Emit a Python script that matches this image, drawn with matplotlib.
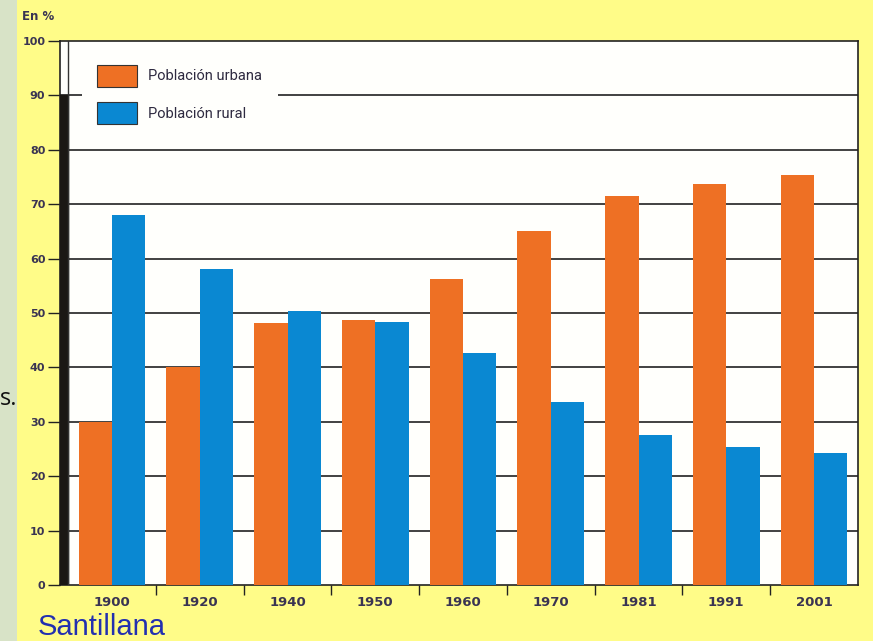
import numpy as np
import matplotlib
matplotlib.use('Agg')
import matplotlib.pyplot as plt
from matplotlib.patches import Patch, Rectangle

# data
years = ['1900', '1920', '1940', '1950', '1960', '1970', '1981', '1991', '2001']
urbana = [30.0, 40.0, 48.1, 48.7, 56.2, 65.1, 71.5, 73.7, 75.4]
rural = [68.0, 58.1, 50.3, 48.4, 42.6, 33.6, 27.5, 25.3, 24.2]
yticks = list(range(0, 101, 10))

c_urb = '#EE7024'
c_rur = '#0A88D2'
txt = '#3A3452'
W, H = 873, 641

fig = plt.figure(figsize=(W / 100, H / 100), dpi=100)
fig.patch.set_facecolor('#FFFC88')
# green strip on the left edge
fig.patches.append(Rectangle((0, 0), 17 / W, 1, transform=fig.transFigure,
                             facecolor='#D8E3C7', edgecolor='none', zorder=0))

ax = fig.add_axes([60 / W, 1 - 585 / H, 798 / W, 544 / H])
ax.set_facecolor('#FFFFFC')

x = np.arange(len(years))
bw = 0.38
ax.bar(x - bw / 2, urbana, bw, color=c_urb, zorder=3)
ax.bar(x + bw / 2, rural, bw, color=c_rur, zorder=3)

ax.set_xlim(-0.593, len(years) - 0.499)
ax.set_ylim(0, 100)

# gridlines
for v in yticks[1:-1]:
    ax.axhline(v, color='#333333', lw=1.3, zorder=1)

# dark wall strip on the left
ax.axvspan(-0.593, -0.5, ymin=0, ymax=0.9, color='#1a1714', zorder=4)
ax.axvline(-0.5, color='#333333', lw=1, zorder=4)

ax.set_yticks(yticks)
ax.set_yticklabels([str(v) for v in yticks], fontsize=8, fontweight='bold', color=txt)
ax.tick_params(axis='y', length=8.6, width=1, color='#222222', pad=2)

ax.set_xticks(x)
ax.set_xticklabels(years, fontsize=9.5, fontweight='bold', color=txt)
ax.set_xticks(x[:-1] + 0.5, minor=True)
ax.tick_params(axis='x', which='major', length=0, pad=8)
ax.tick_params(axis='x', which='minor', length=7, width=1, color='#222222')

for s in ax.spines.values():
    s.set_color('#222222')
    s.set_linewidth(1.2)

handles = [Patch(facecolor=c_urb, edgecolor='#333333', lw=0.8, label='Población urbana'),
           Patch(facecolor=c_rur, edgecolor='#333333', lw=0.8, label='Población rural')]
leg = ax.legend(handles=handles, loc='upper left', bbox_to_anchor=(0.0276, 0.984),
                borderaxespad=0, frameon=True, fancybox=False, framealpha=1,
                facecolor='#FFFFFC', edgecolor='none', handlelength=2.7,
                handleheight=1.9, handletextpad=0.8, labelspacing=1.08,
                borderpad=1.05, prop={'family': 'Roboto', 'size': 10.5})
for t in leg.get_texts():
    t.set_color('#2E2A40')
leg.set_zorder(5)

fig.text(22 / W, 1 - 17 / H, 'En %', fontsize=8.5, fontweight='bold', color=txt,
         ha='left', va='center')
fig.text(38 / W, 1 - 635 / H, 'Santillana', fontsize=21, color='#2230B0',
         family='Liberation Sans', ha='left', va='baseline')
fig.text(17 / W, 1 - 405 / H, 's.', fontsize=17, color='#111111',
         family='Open Sans', ha='right', va='baseline')

fig.savefig('out.png', dpi=100, facecolor=fig.get_facecolor())
